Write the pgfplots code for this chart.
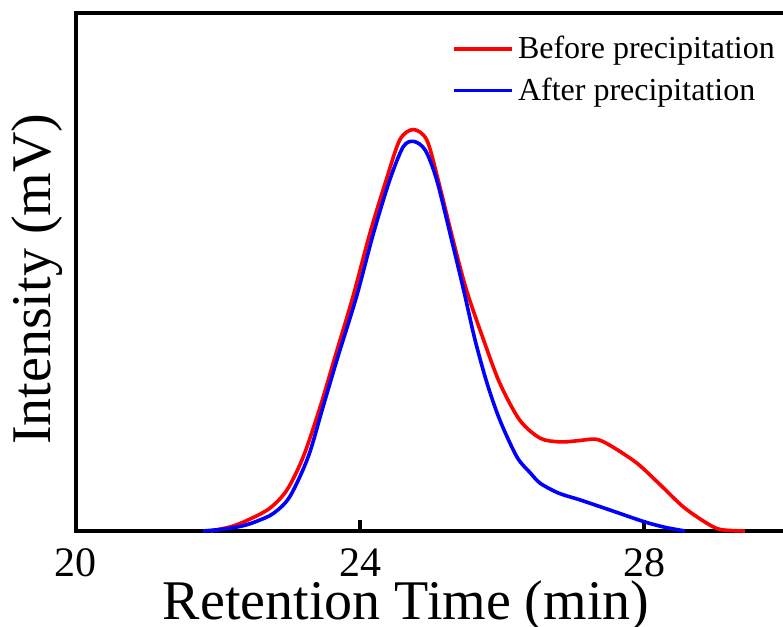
\documentclass[border=0pt]{standalone}
\usepackage{fontspec}
\setmainfont{Liberation Serif}
\usepackage{pgfplots}
\pgfplotsset{compat=1.18}
\begin{document}
\begin{tikzpicture}
\begin{axis}[
  scale only axis,
  width=355pt, height=259pt,
  at={(38pt,48pt)}, anchor=south west,
  xmin=20, xmax=30, ymin=0, ymax=100,
  xtick={20,24,28}, xticklabels={20,24,28}, ytick=\empty,
  xtick pos=lower, tick align=inside,
  major tick length=5.5pt,
  every tick/.style={black, line width=1.6pt},
  axis line style={line width=1.6pt},
  /pgf/number format/assume math mode=true,
  xticklabel style={font=\fontsize{21}{25}\selectfont, anchor=base, yshift=-23pt},
  every axis x label/.style={at={(axis description cs:0.465,-0.1718)}, anchor=base, font=\fontsize{28}{32}\selectfont},
  every axis y label/.style={at={(axis description cs:-0.0366,0.486)}, rotate=90, anchor=base, font=\fontsize{28}{32}\selectfont},
  xlabel={Retention Time (min)},
  ylabel={Intensity (mV)},
  clip=false,
  legend style={at={(axis description cs:0.5296,0.964)}, anchor=north west, draw=none, fill=none, inner sep=0pt,
    font=\fontsize{16}{19}\selectfont, row sep=4pt, cells={anchor=west}},
  legend image code/.code={\draw[#1] (0pt,0pt) -- (29pt,0pt);},
]
\addplot[red, line width=1.8pt, smooth] coordinates {
(21.90,0.0) (22.20,0.9) (22.45,2.3) (22.73,4.4) (22.97,7.9) (23.20,14.3) (23.44,24.0)
(23.65,33.7) (23.90,45.2) (24.14,57.5) (24.37,67.8) (24.56,75.5) (24.75,77.5) (24.94,75.5)
(25.10,67.8) (25.31,56.2) (25.50,46.5) (25.74,36.9) (25.97,28.5) (26.25,21.4) (26.54,17.9)
(26.82,17.2) (27.05,17.4) (27.33,17.7) (27.55,16.3) (27.90,13.1) (28.20,9.3) (28.55,4.7)
(28.85,1.8) (29.07,0.3) (29.42,0.0)
};
\addlegendentry{Before precipitation}
\addplot[blue, line width=1.8pt, smooth] coordinates {
(21.79,0.0) (22.10,0.4) (22.35,1.0) (22.55,1.9) (22.78,3.4) (23.01,6.6) (23.27,14.3)
(23.48,24.0) (23.69,33.7) (23.95,45.2) (24.19,57.5) (24.42,67.8) (24.61,74.2) (24.76,75.2)
(24.92,73.5) (25.08,67.8) (25.29,56.2) (25.46,46.5) (25.62,36.9) (25.79,28.5) (25.97,21.4)
(26.21,14.3) (26.40,11.2) (26.54,9.2) (26.80,7.3) (27.10,6.0) (27.52,4.05) (28.00,1.8)
(28.30,0.7) (28.58,0.0)
};
\addlegendentry{After precipitation}
\end{axis}
\pgfresetboundingbox
\useasboundingbox (0,0) rectangle (391.5pt,313.5pt);
\end{tikzpicture}
\end{document}
